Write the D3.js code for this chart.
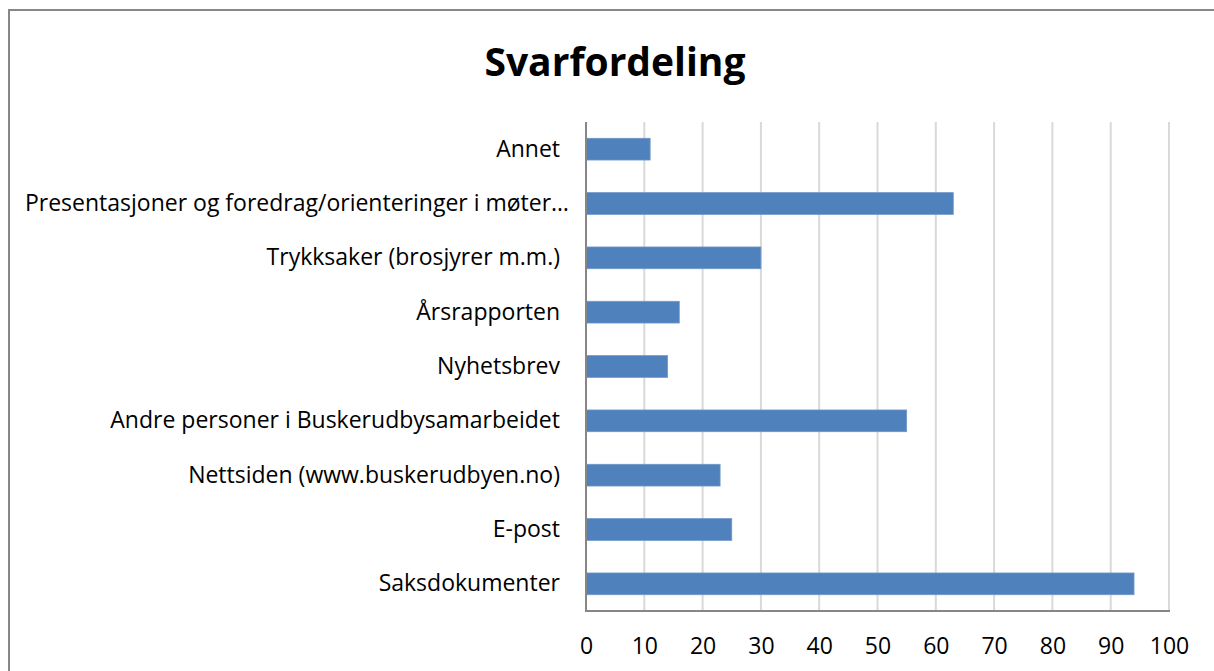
<!DOCTYPE html>
<html>
<head>
<meta charset="utf-8">
<script src="https://cdn.jsdelivr.net/npm/d3@7"></script>
<style>
  html, body { margin: 0; padding: 0; background: #fff; }
  svg { display: block; }
</style>
</head>
<body>
<svg id="chart" width="1214" height="671"></svg>
<script>
// Answer categories, listed bottom to top as on the chart
const categories = [
  "Saksdokumenter",
  "E-post",
  "Nettsiden (www.buskerudbyen.no)",
  "Andre personer i Buskerudbysamarbeidet",
  "Nyhetsbrev",
  "Årsrapporten",
  "Trykksaker (brosjyrer m.m.)",
  "Presentasjoner og foredrag/orienteringer i møter…",
  "Annet"
];
const counts = [94, 25, 23, 55, 14, 16, 30, 63, 11];
const xTicks = [0, 10, 20, 30, 40, 50, 60, 70, 80, 90, 100];
const titleText = "Svarfordeling";

const svg = d3.select("#chart");
const font = "'Open Sans', Calibri, sans-serif";

// outer chart frame
svg.append("rect")
  .attr("x", 9).attr("y", 10)
  .attr("width", 1214).attr("height", 671)
  .attr("fill", "#fff")
  .attr("stroke", "#878787").attr("stroke-width", 2);

const plot = { left: 586, right: 1169, top: 122, bottom: 611 };

const x = d3.scaleLinear().domain([0, 100]).range([plot.left, plot.right]);
const y = d3.scaleBand()
  .domain(categories.slice().reverse())
  .range([plot.top, plot.bottom])
  .paddingInner(0.6).paddingOuter(0.3);

// vertical gridlines
svg.append("g")
  .selectAll("line")
  .data(xTicks.filter(d => d > 0))
  .join("line")
  .attr("x1", d => x(d)).attr("x2", d => x(d))
  .attr("y1", plot.top).attr("y2", plot.bottom)
  .attr("stroke", "#d9d9d9").attr("stroke-width", 2);

// bars
svg.append("g")
  .selectAll("rect")
  .data(categories.map((c, i) => ({ c, v: counts[i] })))
  .join("rect")
  .attr("x", x(0))
  .attr("y", d => y(d.c))
  .attr("width", d => x(d.v) - x(0))
  .attr("height", y.bandwidth())
  .attr("fill", "#4f81bd")
  .attr("stroke", "#6f97c9").attr("stroke-width", 0.8);

// axis lines
svg.append("line")
  .attr("x1", plot.left).attr("x2", plot.left)
  .attr("y1", plot.top).attr("y2", plot.bottom + 1)
  .attr("stroke", "#868686").attr("stroke-width", 2);
svg.append("line")
  .attr("x1", plot.left - 1).attr("x2", plot.right + 1)
  .attr("y1", plot.bottom).attr("y2", plot.bottom)
  .attr("stroke", "#868686").attr("stroke-width", 2);

// x tick labels
const xAxis = d3.axisBottom(x).tickValues(xTicks).tickSize(0).tickPadding(0);
const gx = svg.append("g")
  .attr("transform", `translate(0,${plot.bottom + 43})`)
  .call(xAxis);
gx.select(".domain").remove();
gx.selectAll("text")
  .attr("dy", 0)
  .attr("font-family", font)
  .attr("font-size", 23)
  .attr("fill", "#000");

// category labels; a truncated label lets its ellipsis run a little past the others
const yAxis = d3.axisLeft(y).tickSize(0).tickPadding(0);
const gy = svg.append("g")
  .attr("transform", `translate(${plot.left - 26},0)`)
  .call(yAxis);
gy.select(".domain").remove();
gy.selectAll("text")
  .attr("x", d => d.endsWith("…") ? 9 : 0)
  .attr("font-family", font)
  .attr("font-size", 23)
  .attr("fill", "#000");

// title
svg.append("text")
  .attr("x", 615).attr("y", 76)
  .attr("text-anchor", "middle")
  .attr("font-family", font)
  .attr("font-weight", "bold")
  .attr("font-size", 39)
  .attr("fill", "#000")
  .text(titleText);
</script>
</body>
</html>
